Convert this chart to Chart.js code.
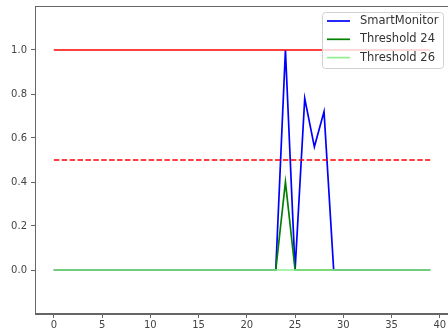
<!DOCTYPE html>
<html>
<head>
<meta charset="utf-8">
<script src="https://cdn.jsdelivr.net/npm/chart.js@4/dist/chart.umd.min.js"></script>
<style>
html,body{margin:0;padding:0;background:#fff;overflow:hidden;}
#wrap{width:452px;height:333px;}
</style>
</head>
<body>
<div id="wrap"><canvas id="c" width="452" height="333"></canvas></div>
<script>
const xValues = [0,1,2,3,4,5,6,7,8,9,10,11,12,13,14,15,16,17,18,19,20,21,22,23,24,25,26,27,28,29,30,31,32,33,34,35,36,37,38,39];
const smartMonitor = [0,0,0,0,0,0,0,0,0,0,0,0,0,0,0,0,0,0,0,0,0,0,0,0,1.0,0,0.78,0.56,0.72,0,0,0,0,0,0,0,0,0,0,0];
const threshold24 = [0,0,0,0,0,0,0,0,0,0,0,0,0,0,0,0,0,0,0,0,0,0,0,0,0.4,0,0,0,0,0,0,0,0,0,0,0,0,0,0,0];
const threshold26 = [0,0,0,0,0,0,0,0,0,0,0,0,0,0,0,0,0,0,0,0,0,0,0,0,0,0,0,0,0,0,0,0,0,0,0,0,0,0,0,0];
const upperLimit = [1,1,1,1,1,1,1,1,1,1,1,1,1,1,1,1,1,1,1,1,1,1,1,1,1,1,1,1,1,1,1,1,1,1,1,1,1,1,1,1];
const midLimit = [0.5,0.5,0.5,0.5,0.5,0.5,0.5,0.5,0.5,0.5,0.5,0.5,0.5,0.5,0.5,0.5,0.5,0.5,0.5,0.5,0.5,0.5,0.5,0.5,0.5,0.5,0.5,0.5,0.5,0.5,0.5,0.5,0.5,0.5,0.5,0.5,0.5,0.5,0.5,0.5];
const xTicks = [0,5,10,15,20,25,30,35,40];
const yTicks = [0.0,0.2,0.4,0.6,0.8,1.0];
const legendLabels = ['SmartMonitor','Threshold 24','Threshold 26'];

const pts = arr => arr.map((v,i)=>({x:xValues[i], y:v}));

const common = {pointRadius:0, fill:false, tension:0, borderWidth:1.7};
const datasets = [
  Object.assign({label:'upper', data:pts(upperLimit), borderColor:'#ff0000'}, common),
  Object.assign({label:'mid', data:pts(midLimit), borderColor:'#ff0000', borderDash:[5.5,2.4]}, common),
  Object.assign({label:'Threshold 26', data:pts(threshold26), borderColor:'#90ee90'}, common),
  Object.assign({label:'Threshold 24', data:pts(threshold24), borderColor:'#008000'}, common),
  Object.assign({label:'SmartMonitor', data:pts(smartMonitor), borderColor:'#0000ff'}, common)
];

const frame = {
  id:'frame',
  afterDatasetsDraw(chart){
    const a = chart.chartArea, ctx = chart.ctx;
    ctx.save();
    ctx.strokeStyle = '#666';
    ctx.lineWidth = 1;
    ctx.strokeRect(a.left+0.5, a.top+0.5, a.right-a.left-1, a.bottom-a.top-1);
    // legend
    const bx = a.right - 127, by = a.top + 6, bw = 121, bh = 56;
    ctx.beginPath();
    if (ctx.roundRect) ctx.roundRect(bx+0.5, by+0.5, bw, bh, 3); else ctx.rect(bx+0.5, by+0.5, bw, bh);
    ctx.fillStyle = 'rgba(255,255,255,0.8)';
    ctx.fill();
    ctx.strokeStyle = '#d0d0d0';
    ctx.stroke();
    ctx.font = '11.5px "DejaVu Sans"';
    ctx.textBaseline = 'middle';
    ctx.textAlign = 'left';
    legendLabels.forEach((lab, i) => {
      const ds = chart.data.datasets.find(d => d.label === lab);
      const yy = by + 9 + i * 18.3;
      ctx.strokeStyle = ds.borderColor;
      ctx.lineWidth = 1.7;
      ctx.beginPath();
      ctx.moveTo(bx + 5, yy);
      ctx.lineTo(bx + 28, yy);
      ctx.stroke();
      ctx.fillStyle = '#333';
      ctx.fillText(lab, bx + 38, yy);
    });
    ctx.restore();
  }
};

new Chart(document.getElementById('c'), {
  type:'line',
  data:{datasets},
  options:{
    responsive:false,
    animation:false,
    devicePixelRatio:1,
    layout:{padding:{top:6,right:3,left:0,bottom:0}},
    plugins:{legend:{display:false}, tooltip:{enabled:false}},
    scales:{
      x:{
        type:'linear', min:-1.95, max:40.95,
        afterBuildTicks(s){ s.ticks = xTicks.map(v=>({value:v})); },
        afterFit(s){ s.height = 19; s.paddingLeft = 0; s.paddingRight = 0; },
        grid:{drawOnChartArea:false, drawTicks:true, tickLength:4, tickColor:'#666'},
        border:{display:true, color:'#666'},
        ticks:{font:{family:'DejaVu Sans', size:10}, color:'#444', padding:1, maxRotation:0, autoSkip:false,
          callback:v=>String(v)}
      },
      y:{
        type:'linear', min:-0.2, max:1.2,
        afterBuildTicks(s){ s.ticks = yTicks.map(v=>({value:v})); },
        afterFit(s){ s.width = 35; s.paddingTop = 0; s.paddingBottom = 0; },
        grid:{drawOnChartArea:false, drawTicks:true, tickLength:4, tickColor:'#666'},
        border:{display:true, color:'#666'},
        ticks:{font:{family:'DejaVu Sans', size:10}, color:'#444', padding:4, autoSkip:false,
          callback:v=>Number(v).toFixed(1)}
      }
    }
  },
  plugins:[frame]
});
</script>
</body>
</html>
